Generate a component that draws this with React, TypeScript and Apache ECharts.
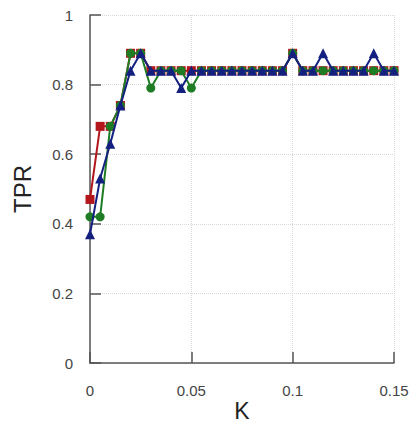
import React, { useEffect, useRef } from "react";
import * as echarts from "echarts";

const kValues = [0, 0.005, 0.01, 0.015, 0.02, 0.025, 0.03, 0.035, 0.04, 0.045, 0.05, 0.055, 0.06, 0.065, 0.07, 0.075, 0.08, 0.085, 0.09, 0.095, 0.1, 0.105, 0.11, 0.115, 0.12, 0.125, 0.13, 0.135, 0.14, 0.145, 0.15];
const redTPR = [0.47, 0.68, 0.68, 0.74, 0.89, 0.89, 0.84, 0.84, 0.84, 0.84, 0.84, 0.84, 0.84, 0.84, 0.84, 0.84, 0.84, 0.84, 0.84, 0.84, 0.89, 0.84, 0.84, 0.84, 0.84, 0.84, 0.84, 0.84, 0.84, 0.84, 0.84];
const greenTPR = [0.42, 0.42, 0.68, 0.74, 0.89, 0.89, 0.79, 0.84, 0.84, 0.84, 0.79, 0.84, 0.84, 0.84, 0.84, 0.84, 0.84, 0.84, 0.84, 0.84, 0.89, 0.84, 0.84, 0.84, 0.84, 0.84, 0.84, 0.84, 0.84, 0.84, 0.84];
const blueTPR = [0.37, 0.53, 0.63, 0.74, 0.84, 0.89, 0.84, 0.84, 0.84, 0.79, 0.84, 0.84, 0.84, 0.84, 0.84, 0.84, 0.84, 0.84, 0.84, 0.84, 0.89, 0.84, 0.84, 0.89, 0.84, 0.84, 0.84, 0.84, 0.89, 0.84, 0.84];

const pair = (ys: number[]) => kValues.map((k, i) => [k, ys[i]]);

export default function App() {
  const ref = useRef<HTMLDivElement>(null);
  useEffect(() => {
    if (!ref.current) return;
    const chart = echarts.init(ref.current, undefined, { renderer: "svg" });
    const axisText = { color: "#444", fontSize: 15, fontFamily: "Liberation Sans, Arial, sans-serif" };
    const split = { show: true, lineStyle: { color: "#d8d8d8", type: "dotted" as const, width: 1 } };
    chart.setOption({
      animation: false,
      backgroundColor: "#fff",
      grid: { left: 90, right: 22, top: 15, bottom: 61, outerBoundsMode: "none", containLabel: false },
      xAxis: {
        type: "value",
        min: 0,
        max: 0.15,
        interval: 0.05,
        name: "K",
        nameLocation: "middle",
        nameGap: 36,
        nameMoveOverlap: false,
        nameTextStyle: { fontSize: 23, lineHeight: 23, color: "#222", fontFamily: "Liberation Sans, Arial, sans-serif" },
        axisLine: { show: true, lineStyle: { color: "#555", width: 1.5 } },
        axisTick: { show: true, inside: true, length: 11, lineStyle: { color: "#555", width: 1.5 } },
        axisLabel: { ...axisText, margin: 20 },
        splitLine: split,
      },
      yAxis: {
        type: "value",
        min: 0,
        max: 1,
        interval: 0.2,
        name: "TPR",
        nameLocation: "middle",
        nameGap: 56,
        nameMoveOverlap: false,
        nameTextStyle: { fontSize: 24, color: "#222", fontFamily: "Liberation Sans, Arial, sans-serif" },
        axisLine: { show: true, lineStyle: { color: "#555", width: 1.5 } },
        axisTick: { show: true, inside: true, length: 11, lineStyle: { color: "#555", width: 1.5 } },
        axisLabel: { ...axisText, margin: 17 },
        splitLine: split,
      },
      series: [
        {
          type: "line",
          data: pair(redTPR),
          symbol: "rect",
          symbolSize: 9,
          itemStyle: { color: "#b3161b" },
          lineStyle: { color: "#b3161b", width: 2 },
          z: 2,
        },
        {
          type: "line",
          data: pair(greenTPR),
          symbol: "circle",
          symbolSize: 9,
          itemStyle: { color: "#1e7d24" },
          lineStyle: { color: "#1e7d24", width: 2 },
          z: 3,
        },
        {
          type: "line",
          data: pair(blueTPR),
          symbol: "triangle",
          symbolSize: 10,
          itemStyle: { color: "#142080" },
          lineStyle: { color: "#142080", width: 2 },
          z: 4,
        },
      ],
    });
    return () => chart.dispose();
  }, []);
  return <div ref={ref} style={{ width: 416, height: 424, position: "absolute", left: 0, top: 0 }} />;
}
